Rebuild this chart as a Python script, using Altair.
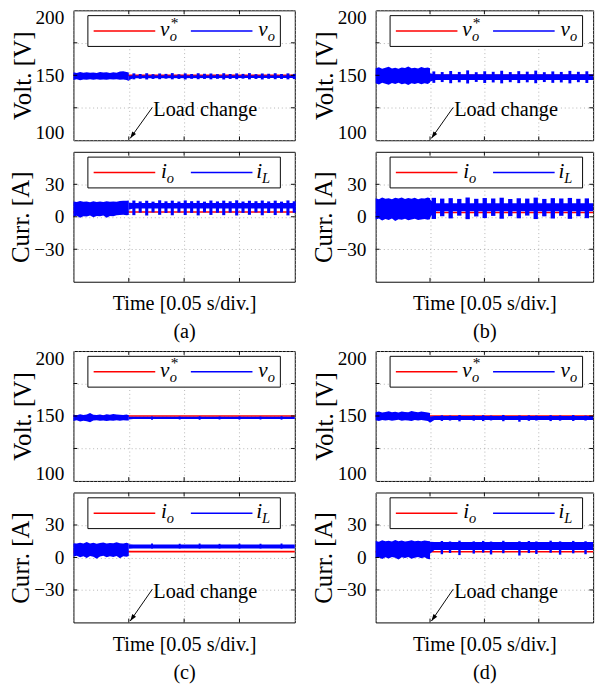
import altair as alt
import pandas as pd

FONT = "Liberation Serif, Times New Roman, serif"
RED = "#ff0000"
BLUE = "#0000ff"

# ---------------- axes / ticks ----------------
T_GRID = [0.0, 0.05, 0.10, 0.15, 0.20]
T_INNER = [0.05, 0.10, 0.15]
V_TICKS = [100, 125, 150, 175, 200]
V_INNER = [125, 150, 175]
I_TICKS = [-30, 0, 30]
X_TITLE = "Time [0.05 s/div.]"
CAPTIONS = ["(a)", "(b)", "(c)", "(d)"]

# ---------------- time bases (s) ----------------
PRE_T = [0.000, 0.003, 0.006, 0.009, 0.012, 0.015, 0.018, 0.021, 0.024,
         0.027, 0.030, 0.033, 0.036, 0.039, 0.042, 0.045, 0.048, 0.050]
POST_T = [0.050, 0.054, 0.200]

# reference values
V_REF = [150, 150, 150, 150]
I_O = [4.5, 4.0, 5.4, 5.3]

# ---------------- panel (a) ----------------
A_V_PRE_HI = [152.3, 151.8, 152.6, 152.0, 152.4, 151.9, 152.2, 151.7, 152.5, 152.1, 152.3, 151.8, 152.4, 152.0, 152.9, 153.2, 152.6, 152.2]
A_V_PRE_LO = [146.4, 146.9, 146.2, 146.8, 146.5, 147.0, 146.6, 146.9, 146.5, 146.8, 146.6, 147.0, 146.7, 146.9, 146.5, 146.7, 146.4, 145.6]
A_V_POST_HI = [149.6, 149.9, 149.9]
A_V_POST_LO = [146.2, 147.8, 147.9]
A_I_PRE_HI = [14.2, 13.6, 14.5, 13.8, 14.0, 13.5, 14.3, 13.7, 14.1, 13.6, 14.4, 13.9, 14.2, 13.8, 14.6, 14.9, 14.7, 15.0]
A_I_PRE_LO = [0.2, 1.0, -0.8, 0.6, 0.3, 1.2, -0.5, 0.8, 0.4, 1.1, -1.0, 0.7, 0.5, 1.3, 1.6, 1.8, 1.5, 1.7]
A_I_POST_HI = [13.0, 12.8, 12.8]
A_I_POST_LO = [6.5, 7.6, 7.6]
A_BURST_T = [0.0546, 0.0603, 0.0662, 0.0719, 0.0779, 0.0836, 0.0893, 0.0953, 0.1010, 0.1068, 0.1127, 0.1184, 0.1242,
             0.1301, 0.1358, 0.1416, 0.1475, 0.1532, 0.1590, 0.1649, 0.1706, 0.1764, 0.1823, 0.1880, 0.1938, 0.1995]
A_V_BURST_HI = [151.5, 151.0, 151.6, 150.9, 151.4, 151.1, 151.7, 150.8, 151.5, 151.0, 151.6, 151.2, 151.4,
                150.9, 151.6, 151.0, 151.5, 151.1, 151.7, 150.9, 151.4, 151.2, 151.6, 151.0, 151.5, 151.1]
A_V_BURST_LO = [146.9, 147.3, 146.8, 147.2, 147.0, 147.4, 146.9, 147.2, 146.8, 147.3, 147.0, 147.2, 146.9,
                147.3, 146.8, 147.2, 147.0, 147.4, 146.9, 147.2, 146.8, 147.3, 147.0, 147.2, 146.9, 147.1]
A_I_BURST_HI = [15.0, 14.2, 14.8, 14.0, 15.2, 14.3, 14.9, 14.1, 15.1, 14.4, 14.8, 14.0, 15.0,
                14.2, 14.9, 14.3, 15.2, 14.1, 14.8, 14.4, 15.0, 14.2, 14.9, 14.0, 15.1, 14.3]
A_I_BURST_LO = [1.5, 3.8, 1.2, 4.0, 1.8, 3.5, 1.4, 3.9, 1.6, 3.6, 1.3, 4.1, 1.7,
                3.7, 1.5, 3.8, 1.2, 3.6, 1.8, 4.0, 1.4, 3.5, 1.6, 3.9, 1.3, 3.7]

# ---------------- panel (b) ----------------
B_V_PRE_HI = [155.5, 156.2, 155.0, 155.8, 156.5, 155.3, 155.9, 155.1, 156.0, 155.6, 156.8, 155.4, 155.9, 155.2, 156.3, 155.7, 156.1, 155.5]
B_V_PRE_LO = [143.8, 143.0, 144.2, 143.5, 142.8, 144.0, 143.4, 144.3, 143.1, 143.7, 142.6, 143.9, 143.3, 144.1, 143.2, 143.8, 143.4, 144.5]
B_V_POST_HI = [151.5, 150.8, 150.8]
B_V_POST_LO = [145.0, 146.4, 146.4]
B_I_PRE_HI = [17.0, 16.3, 17.8, 16.6, 17.2, 16.1, 17.5, 16.8, 17.9, 16.4, 17.3, 16.7, 17.6, 16.2, 17.1, 16.9, 17.7, 17.2]
B_I_PRE_LO = [-2.5, -1.6, -3.4, -2.0, -2.9, -1.5, -3.8, -2.2, -2.7, -1.8, -3.2, -2.4, -1.9, -3.0, -2.6, -2.1, -2.8, -2.3]
B_I_POST_HI = [16.0, 12.6, 12.6]
B_I_POST_LO = [-1.0, 5.0, 5.0]
B_BURST_T = [0.0535, 0.0612, 0.0690, 0.0769, 0.0846, 0.0925, 0.1003, 0.1081, 0.1159, 0.1238,
             0.1316, 0.1394, 0.1472, 0.1551, 0.1629, 0.1707, 0.1786, 0.1864, 0.1942]
B_V_BURST_HI = [153.0, 152.5, 153.3, 152.6, 153.8, 152.4, 153.1, 152.7, 153.5, 152.5,
                153.2, 152.8, 153.6, 152.4, 153.0, 152.6, 153.4, 152.7, 153.1]
B_V_BURST_LO = [144.2, 144.8, 143.9, 144.6, 143.7, 144.9, 144.1, 144.5, 143.8, 144.7,
                144.0, 144.6, 143.9, 144.8, 144.2, 144.5, 143.8, 144.7, 144.1]
B_I_BURST_HI = [17.5, 16.8, 17.2, 16.5, 17.8, 16.6, 17.3, 16.9, 17.6, 16.4,
                17.1, 16.8, 17.7, 16.5, 17.2, 16.9, 17.4, 16.6, 17.0]
B_I_BURST_LO = [-2.0, 0.5, -1.5, 1.0, -2.2, 0.3, -1.2, 0.8, -1.8, 0.6,
                -1.4, 1.1, -2.1, 0.4, -1.6, 0.9, -1.9, 0.5, -1.3]

# ---------------- panel (c) ----------------
C_V_PRE_HI = [151.0, 150.6, 151.3, 150.8, 151.2, 152.4, 151.0, 150.7, 151.1, 150.6, 151.3, 150.9, 151.6, 151.2, 151.0, 150.7, 151.1, 150.5]
C_V_PRE_LO = [146.2, 146.7, 145.8, 146.4, 146.0, 145.2, 146.5, 146.8, 146.3, 146.6, 146.1, 146.5, 146.3, 146.7, 146.4, 146.8, 146.5, 146.6]
C_V_POST_HI = [149.4, 149.5, 149.5]
C_V_POST_LO = [147.3, 147.7, 147.7]
C_I_PRE_HI = [13.2, 12.8, 13.6, 12.9, 14.2, 13.0, 13.5, 12.7, 13.3, 13.8, 12.9, 13.4, 13.1, 14.0, 13.2, 12.8, 13.6, 13.0]
C_I_PRE_LO = [0.8, 1.5, 0.2, 1.2, -0.4, 1.4, 0.6, -1.2, 1.0, 1.6, 0.3, 1.1, 0.5, 1.3, -0.6, 1.2, 0.7, 1.4]
C_I_POST_HI = [12.2, 12.0, 12.0]
C_I_POST_LO = [8.0, 8.3, 8.3]
C_BURST_T = [0.0710, 0.0960, 0.1140, 0.1320, 0.1500, 0.1690, 0.1880]
C_V_BURST_HI = [149.7, 149.6, 149.8, 149.6, 149.7, 149.6, 149.8]
C_V_BURST_LO = [147.2, 147.3, 147.1, 147.3, 147.2, 147.3, 147.2]
C_I_BURST_HI = [12.9, 12.7, 12.9, 12.6, 12.8, 12.7, 12.9]
C_I_BURST_LO = [8.2, 8.3, 8.2, 8.3, 8.2, 8.3, 8.2]

# ---------------- panel (d) ----------------
D_V_PRE_HI = [152.8, 153.4, 152.6, 153.0, 153.6, 152.9, 153.2, 152.7, 153.5, 153.1, 152.8, 153.9, 153.3, 152.9, 153.4, 153.0, 152.6, 152.4]
D_V_PRE_LO = [146.8, 146.2, 147.0, 146.5, 146.9, 146.3, 146.7, 147.1, 146.4, 146.8, 146.6, 146.2, 146.9, 146.5, 147.0, 146.6, 146.1, 144.8]
D_V_POST_HI = [149.6, 150.0, 150.0]
D_V_POST_LO = [144.8, 146.9, 147.0]
D_I_PRE_HI = [15.2, 14.6, 15.8, 14.9, 15.4, 14.7, 16.2, 15.0, 15.6, 14.8, 15.3, 16.0, 14.9, 15.5, 15.1, 15.7, 15.2, 15.0]
D_I_PRE_LO = [-0.6, 0.3, -1.5, 0.1, -0.9, 0.4, -0.3, -1.8, 0.2, -0.5, 0.5, -1.1, -0.2, 0.4, -0.7, 0.1, -1.4, -1.6]
D_I_POST_HI = [14.6, 14.2, 14.2]
D_I_POST_LO = [3.5, 6.8, 6.8]
D_BURST_T = [0.0609, 0.0684, 0.0771, 0.0902, 0.0989, 0.1061, 0.1174, 0.1322, 0.1409, 0.1478, 0.1609, 0.1696, 0.1817, 0.1930]
D_V_BURST_HI = [150.5, 150.3, 150.7, 150.4, 150.6, 150.3, 150.8, 150.4, 150.5, 150.3, 150.6, 150.4, 150.7, 150.3]
D_V_BURST_LO = [146.2, 146.5, 145.9, 146.4, 146.1, 146.6, 146.0, 145.6, 146.3, 146.5, 146.1, 146.4, 146.2, 146.5]
D_I_BURST_HI = [15.2, 14.8, 15.5, 14.9, 15.3, 14.7, 15.4, 15.0, 15.2, 14.8, 15.5, 14.9, 15.3, 15.0]
D_I_BURST_LO = [3.0, 4.2, 2.2, 3.6, 4.5, 2.8, 3.9, 1.8, 4.1, 3.2, 4.4, 2.6, 3.8, 3.0]

# annotation (data coordinates)
ANN_T_TEXT, ANN_T_TAIL, ANN_T_TIP = 0.0722, 0.0713, 0.0513
ANN_V = {"text": 123.0, "tail": 125.3, "tip": 101.5}
ANN_I = {"text": -32.2, "tail": -29.3, "tip": -58.7}

PANELS = [
    dict(v=(A_V_PRE_HI, A_V_PRE_LO, A_V_POST_HI, A_V_POST_LO, A_BURST_T, A_V_BURST_HI, A_V_BURST_LO),
         i=(A_I_PRE_HI, A_I_PRE_LO, A_I_POST_HI, A_I_POST_LO, A_BURST_T, A_I_BURST_HI, A_I_BURST_LO),
         bw=3.2, ann="v"),
    dict(v=(B_V_PRE_HI, B_V_PRE_LO, B_V_POST_HI, B_V_POST_LO, B_BURST_T, B_V_BURST_HI, B_V_BURST_LO),
         i=(B_I_PRE_HI, B_I_PRE_LO, B_I_POST_HI, B_I_POST_LO, B_BURST_T, B_I_BURST_HI, B_I_BURST_LO),
         bw=4.5, ann="v"),
    dict(v=(C_V_PRE_HI, C_V_PRE_LO, C_V_POST_HI, C_V_POST_LO, C_BURST_T, C_V_BURST_HI, C_V_BURST_LO),
         i=(C_I_PRE_HI, C_I_PRE_LO, C_I_POST_HI, C_I_POST_LO, C_BURST_T, C_I_BURST_HI, C_I_BURST_LO),
         bw=2.0, ann="i"),
    dict(v=(D_V_PRE_HI, D_V_PRE_LO, D_V_POST_HI, D_V_POST_LO, D_BURST_T, D_V_BURST_HI, D_V_BURST_LO),
         i=(D_I_PRE_HI, D_I_PRE_LO, D_I_POST_HI, D_I_POST_LO, D_BURST_T, D_I_BURST_HI, D_I_BURST_LO),
         bw=2.5, ann="i"),
]

H = 135
WIDTHS = [230, 226, 230, 226]

XS = alt.Scale(domain=[0, 0.2], nice=False, zero=False)
VS = alt.Scale(domain=[100, 200], nice=False, zero=False)
IS = alt.Scale(domain=[-60, 60], nice=False, zero=False)

ONE = pd.DataFrame({"k": [0]})


def legend_layers(kind):
    base = alt.Chart(ONE)
    layers = [
        base.mark_rect(fill="white", stroke="black", strokeWidth=1).encode(
            x=alt.value(15), x2=alt.value(215), y=alt.value(5.5), y2=alt.value(37.5)),
        base.mark_rule(color=RED, strokeWidth=1.6).encode(
            x=alt.value(21), x2=alt.value(85), y=alt.value(21.5)),
        base.mark_rule(color=BLUE, strokeWidth=1.6).encode(
            x=alt.value(122), x2=alt.value(186), y=alt.value(21.5)),
    ]
    if kind == "v":
        items = [("v", 90, 27, 22, "italic"), ("o", 100, 32, 15, "italic"), ("*", 101, 18, 16, "normal"),
                 ("v", 192, 27, 22, "italic"), ("o", 202, 32, 15, "italic")]
    else:
        items = [("i", 91, 27, 22, "italic"), ("o", 97, 32, 15, "italic"),
                 ("i", 190, 27, 22, "italic"), ("L", 196, 32, 15, "italic")]
    for txt, x, y, fs, st in items:
        layers.append(base.mark_text(font=FONT, fontSize=fs, fontStyle=st, align="left",
                                     baseline="alphabetic", color="black").encode(
            x=alt.value(x), y=alt.value(y), text=alt.value(txt)))
    return layers


def subplot(kind, sig, ref, w, bw, caption, with_ann):
    pre_hi, pre_lo, post_hi, post_lo, bt, bhi, blo = sig
    if kind == "v":
        sc = VS
        yaxis = alt.Axis(values=V_TICKS, labelExpr="datum.value % 50 === 0 ? datum.label : ''",
                         labelFlush=True, labelFlushOffset=2, ticks=False, domain=False, grid=True,
                         labelPadding=10, title="Volt. [V]", titleFontSize=26, titlePadding=0)
        xaxis = alt.Axis(values=T_GRID, labels=False, ticks=False, domain=False, grid=True, title=None)
        inner = V_INNER
        ann = ANN_V
    else:
        sc = IS
        yaxis = alt.Axis(values=I_TICKS, ticks=False, domain=False, grid=True, labelPadding=10,
                         title="Curr. [A]", titleFontSize=26, titlePadding=0)
        xaxis = alt.Axis(values=T_GRID, labels=False, ticks=False, domain=False, grid=True,
                         title=[X_TITLE, caption], titleFontSize=21, titleLineHeight=29, titlePadding=12)
        inner = I_TICKS
        ann = ANN_I

    def X(f):
        return alt.X(f"{f}:Q", scale=XS, axis=xaxis)

    def Y(f):
        return alt.Y(f"{f}:Q", scale=sc, axis=yaxis)

    red = alt.Chart(pd.DataFrame({"t": [0.0, 0.2], "hi": [ref, ref]})).mark_line(
        color=RED, strokeWidth=1.6).encode(x=X("t"), y=Y("hi"))
    pre = alt.Chart(pd.DataFrame({"t": PRE_T, "hi": pre_hi, "lo": pre_lo})).mark_area(
        color=BLUE, opacity=1).encode(x=X("t"), y=Y("hi"), y2="lo:Q")
    post = alt.Chart(pd.DataFrame({"t": POST_T, "hi": post_hi, "lo": post_lo})).mark_area(
        color=BLUE, opacity=1).encode(x=X("t"), y=Y("hi"), y2="lo:Q")
    bursts = alt.Chart(pd.DataFrame({"t": bt, "hi": bhi, "lo": blo})).mark_rule(
        color=BLUE, strokeWidth=bw).encode(x=X("t"), y=Y("hi"), y2="lo:Q")

    tx = alt.Chart(pd.DataFrame({"t": T_INNER}))
    ty = alt.Chart(pd.DataFrame({"hi": inner}))
    ticks = [
        tx.mark_rule(color="black", strokeWidth=1).encode(x=X("t"), y=alt.value(0), y2=alt.value(4)),
        tx.mark_rule(color="black", strokeWidth=1).encode(x=X("t"), y=alt.value(H - 4), y2=alt.value(H)),
        ty.mark_rule(color="black", strokeWidth=1).encode(y=Y("hi"), x=alt.value(0), x2=alt.value(4)),
        ty.mark_rule(color="black", strokeWidth=1).encode(y=Y("hi"), x=alt.value(w - 4), x2=alt.value(w)),
    ]

    layers = [red, pre, post, bursts] + ticks + legend_layers(kind)
    if with_ann:
        txt = alt.Chart(pd.DataFrame({"t": [ANN_T_TEXT], "hi": [ann["text"]], "s": ["Load change"]})).mark_text(
            font=FONT, fontSize=21, align="left", baseline="middle", color="black").encode(
            x=X("t"), y=Y("hi"), text="s:N")
        arr = alt.Chart(pd.DataFrame({"t": [ANN_T_TAIL], "hi": [ann["tail"]],
                                      "t2": [ANN_T_TIP], "lo": [ann["tip"]]})).mark_rule(
            color="black", strokeWidth=1).encode(x=X("t"), y=Y("hi"), x2="t2:Q", y2="lo:Q")
        head = alt.Chart(pd.DataFrame({"t": [ANN_T_TIP], "hi": [ann["tip"]]})).mark_point(
            shape="M0,0L-0.5,1.5L0.5,1.5Z", filled=True, size=90, angle=215, color="black",
            opacity=1, strokeWidth=0).encode(x=X("t"), y=Y("hi"))
        layers += [arr, head, txt]
    return alt.layer(*layers).properties(width=w, height=H)


def panel(idx):
    p = PANELS[idx]
    w = WIDTHS[idx]
    v = subplot("v", p["v"], V_REF[idx], w, min(p["bw"], 3.0), CAPTIONS[idx], p["ann"] == "v")
    i = subplot("i", p["i"], I_O[idx], w, p["bw"], CAPTIONS[idx], p["ann"] == "i")
    return alt.vconcat(v, i, spacing=8)


row1 = alt.hconcat(panel(0), panel(1), spacing=12)
row2 = alt.hconcat(panel(2), panel(3), spacing=12)

chart = alt.vconcat(row1, row2, spacing=6).properties(
    padding={"top": -14, "left": 0, "right": 0, "bottom": 0}, background="white"
).configure_view(
    stroke="black", strokeWidth=1
).configure_axis(
    labelFont=FONT, labelFontSize=20, labelColor="black",
    titleFont=FONT, titleFontWeight="normal", titleColor="black",
    gridColor="#a8a8a8", gridDash=[1, 3], gridWidth=0.9
)

chart.save("out.html", embed_options={"renderer": "svg", "actions": False})
